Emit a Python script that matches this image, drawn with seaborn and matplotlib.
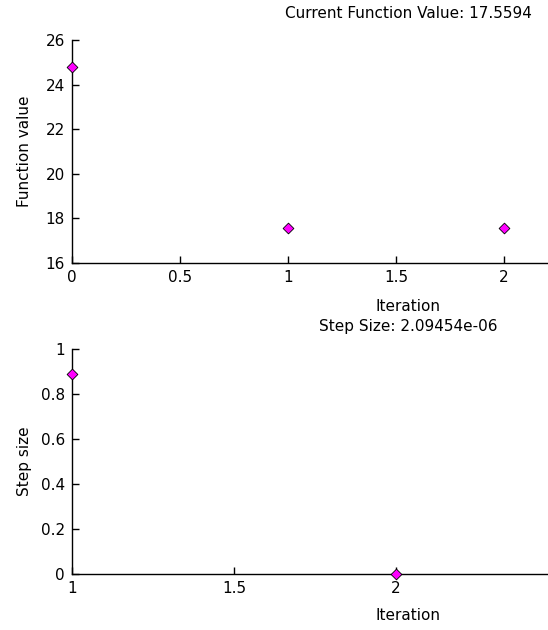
import matplotlib
matplotlib.use("Agg")
import matplotlib.pyplot as plt
import seaborn as sns
import pandas as pd

# Data
fval_iter = [0, 1, 2]
fval_values = [24.8, 17.5594, 17.5594]
step_iter = [1, 2]
step_values = [0.89, 2.09454e-06]
top_xticks = [0, 0.5, 1, 1.5, 2]
top_yticks = [16, 18, 20, 22, 24, 26]
bot_xticks = [1, 1.5, 2]
bot_yticks = [0, 0.2, 0.4, 0.6, 0.8, 1]
top_title = "Current Function Value: 17.5594"
bot_title = "Step Size: 2.09454e-06"

sns.set_style("ticks")
plt.rcParams['font.family'] = ['DejaVu Sans']
plt.rcParams['text.color'] = 'black'
plt.rcParams['axes.labelcolor'] = 'black'
fs = 11

fig = plt.figure(figsize=(5.48, 6.30), dpi=100)
ax1 = fig.add_axes([72/548, 1-263/630, 1-72/548, (263-40)/630])
ax2 = fig.add_axes([72/548, 1-574/630, 1-72/548, (574-349)/630])

df1 = pd.DataFrame({"Iteration": fval_iter, "Function value": fval_values})
df2 = pd.DataFrame({"Iteration": step_iter, "Step size": step_values})

sns.scatterplot(data=df1, x="Iteration", y="Function value", ax=ax1,
                marker="D", s=30, color="#ff00ff", edgecolor="black",
                linewidth=0.6, clip_on=False, zorder=5)
sns.scatterplot(data=df2, x="Iteration", y="Step size", ax=ax2,
                marker="D", s=30, color="#ff00ff", edgecolor="black",
                linewidth=0.6, clip_on=False, zorder=5)

center = (408 - 72) / 476

ax1.set_xlim(0, 476/216)
ax1.set_ylim(16, 26)
ax1.set_xticks(top_xticks)
ax1.set_xticklabels(["0", "0.5", "1", "1.5", "2"])
ax1.set_yticks(top_yticks)
ax1.set_title(top_title, x=center, pad=16, fontsize=fs, color="black")
ax1.xaxis.set_label_coords(center, -0.163)

ax2.set_xlim(1, 1 + 476/324)
ax2.set_ylim(0, 1)
ax2.set_xticks(bot_xticks)
ax2.set_xticklabels(["1", "1.5", "2"])
ax2.set_yticks(bot_yticks)
ax2.set_yticklabels(["0", "0.2", "0.4", "0.6", "0.8", "1"])
ax2.set_title(bot_title, x=center, pad=13, fontsize=fs, color="black")
ax2.xaxis.set_label_coords(center, -0.153)

for ax in (ax1, ax2):
    sns.despine(ax=ax)
    ax.tick_params(direction="in", length=5, width=1, colors="black",
                   labelsize=fs, pad=5)
    for sp in ("left", "bottom"):
        ax.spines[sp].set_linewidth(1)
        ax.spines[sp].set_color("black")
    ax.xaxis.label.set_fontsize(fs)
    ax.yaxis.label.set_fontsize(fs)
    ax.xaxis.label.set_color("black")
    ax.yaxis.label.set_color("black")
    ax.yaxis.set_label_coords(-0.084, 0.5)
    ax.patch.set_alpha(0)

fig.savefig("out.png", dpi=100, facecolor="white")
